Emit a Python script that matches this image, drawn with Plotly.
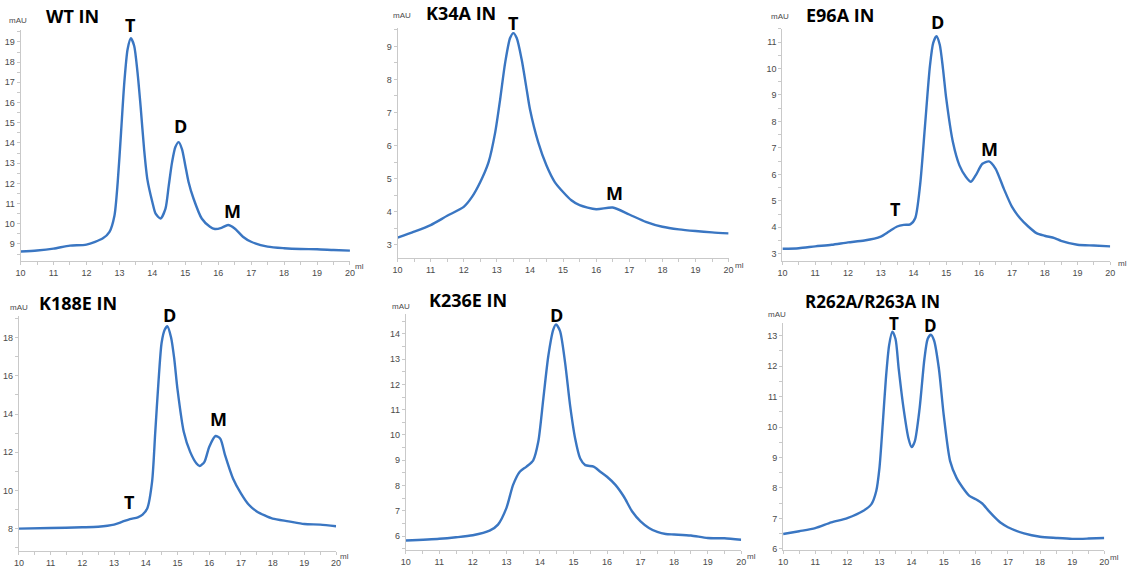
import plotly.graph_objects as go

W, H = 1141, 573

# ---------------- data (volume ml, absorbance mAU) ----------------
wt_x = [10, 10.5, 11, 11.5, 12, 12.5, 12.7, 12.85, 12.95, 13.05, 13.15, 13.25, 13.35, 13.45, 13.55, 13.65, 13.75, 13.85, 14.0, 14.1, 14.25, 14.4, 14.5, 14.6, 14.7, 14.8, 14.9, 15.0, 15.1, 15.25, 15.5, 15.75, 15.9, 16.1, 16.3, 16.5, 16.75, 17, 17.5, 18, 18.5, 19, 19.5, 20]
wt_y = [8.63, 8.68, 8.77, 8.92, 8.97, 9.28, 9.6, 10.4, 12.07, 14.5, 17.0, 18.64, 19.18, 18.8, 17.5, 15.7, 13.7, 12.2, 11.08, 10.5, 10.26, 10.75, 11.9, 13.05, 13.8, 14.04, 13.7, 12.9, 12.07, 11.25, 10.26, 9.85, 9.74, 9.8, 9.94, 9.77, 9.36, 9.11, 8.87, 8.79, 8.75, 8.74, 8.70, 8.67]

k34_x = [10, 10.5, 11, 11.5, 12, 12.25, 12.5, 12.75, 12.95, 13.1, 13.25, 13.4, 13.5, 13.6, 13.75, 13.9, 14.0, 14.25, 14.5, 14.75, 15.0, 15.25, 15.5, 16, 16.5, 17, 17.5, 18, 18.5, 19, 19.5, 20]
k34_y = [3.22, 3.40, 3.60, 3.88, 4.15, 4.45, 4.9, 5.5, 6.4, 7.4, 8.5, 9.25, 9.4, 9.25, 8.6, 7.7, 7.1, 6.1, 5.4, 4.9, 4.6, 4.35, 4.2, 4.08, 4.13, 3.92, 3.70, 3.55, 3.47, 3.42, 3.38, 3.35]

e96_x = [10, 10.5, 11, 11.5, 12, 12.5, 13, 13.25, 13.5, 13.7, 13.9, 14.05, 14.2, 14.35, 14.5, 14.6, 14.7, 14.8, 14.9, 15.0, 15.2, 15.4, 15.6, 15.75, 15.9, 16.1, 16.3, 16.5, 16.75, 17, 17.25, 17.5, 17.75, 18, 18.3, 18.5, 19, 19.5, 20]
e96_y = [3.19, 3.21, 3.28, 3.34, 3.43, 3.50, 3.65, 3.84, 4.03, 4.09, 4.11, 4.34, 5.6, 7.84, 10.1, 10.97, 11.22, 10.9, 9.97, 8.84, 7.22, 6.34, 5.9, 5.72, 5.97, 6.4, 6.49, 6.22, 5.47, 4.78, 4.34, 4.03, 3.78, 3.68, 3.59, 3.49, 3.34, 3.31, 3.28]

k188_x = [10, 11, 12, 12.5, 13, 13.25, 13.5, 13.75, 13.9, 14.05, 14.2, 14.3, 14.4, 14.5, 14.6, 14.68, 14.8, 14.9, 15.0, 15.2, 15.4, 15.6, 15.7, 15.85, 16.0, 16.2, 16.35, 16.5, 16.75, 17.0, 17.25, 17.5, 17.75, 18, 18.5, 19, 19.5, 20]
k188_y = [8.0, 8.03, 8.07, 8.1, 8.21, 8.35, 8.5, 8.59, 8.73, 9.07, 10.46, 13.06, 15.66, 17.74, 18.43, 18.6, 18.0, 16.87, 15.31, 13.06, 12.02, 11.41, 11.28, 11.5, 12.28, 12.85, 12.71, 11.85, 10.63, 9.85, 9.25, 8.9, 8.69, 8.52, 8.38, 8.24, 8.21, 8.12]

k236_x = [10, 11, 11.5, 12, 12.5, 12.75, 13.0, 13.2, 13.4, 13.6, 13.8, 13.95, 14.1, 14.25, 14.4, 14.48, 14.6, 14.75, 14.9, 15.05, 15.2, 15.35, 15.6, 15.8, 16.0, 16.25, 16.5, 16.75, 17.0, 17.25, 17.5, 17.75, 18.0, 18.5, 19.0, 19.5, 20]
k236_y = [5.83, 5.9, 5.96, 6.04, 6.22, 6.46, 7.11, 8.03, 8.55, 8.75, 9.0, 9.73, 11.42, 13.12, 14.17, 14.37, 14.1, 12.86, 11.16, 9.86, 9.07, 8.81, 8.75, 8.55, 8.35, 8.03, 7.57, 6.98, 6.59, 6.33, 6.17, 6.09, 6.07, 6.03, 5.93, 5.92, 5.86]

r262_x = [10, 10.5, 11, 11.5, 12, 12.5, 12.75, 12.9, 13.0, 13.1, 13.2, 13.3, 13.4, 13.5, 13.6, 13.75, 13.9, 14.0, 14.1, 14.25, 14.4, 14.5, 14.6, 14.7, 14.85, 15.0, 15.2, 15.4, 15.6, 15.8, 16.0, 16.2, 16.4, 16.6, 16.8, 17.0, 17.5, 18.0, 18.5, 19.0, 19.5, 20]
r262_y = [6.49, 6.58, 6.68, 6.87, 7.01, 7.25, 7.47, 7.9, 8.66, 10.07, 11.59, 12.68, 13.13, 12.89, 11.9, 10.61, 9.64, 9.34, 9.53, 10.61, 12.24, 12.89, 13.03, 12.84, 11.92, 10.4, 8.88, 8.33, 8.0, 7.74, 7.63, 7.49, 7.25, 7.03, 6.84, 6.71, 6.51, 6.4, 6.36, 6.33, 6.34, 6.36]

titles = ["WT IN", "K34A IN", "E96A IN", "K188E IN", "K236E IN", "R262A/R263A IN"]
x_ticks = [10, 11, 12, 13, 14, 15, 16, 17, 18, 19, 20]

# ---------------- layout per panel ----------------
def px(x):
    return x / W

def py(y):
    return 1 - y / H

panels = [
    dict(x=wt_x, y=wt_y, box=(15.7, 348, 30, 263), yr=(8.15, 19.6), dt=1, md=0.5,
         peaks=[("T", 127, 25), ("D", 177, 127), ("M", 230, 212)],
         title=(68, 16), mau=(13, 21), ml=(358, 268)),
    dict(x=k34_x, y=k34_y, box=(396, 730, 28, 260), yr=(2.6, 9.56), dt=1, md=0.5,
         peaks=[("T", 513, 23), ("M", 615, 194)],
         title=(460, 13), mau=(401, 16), ml=(741, 267)),
    dict(x=e96_x, y=e96_y, box=(784.3, 1115, 29, 263), yr=(2.72, 11.5), dt=1, md=0.5,
         peaks=[("D", 941, 22), ("M", 993, 150), ("T", 898, 210)],
         title=(842, 15), mau=(782, 17), ml=(1127, 265)),
    dict(x=k188_x, y=k188_y, box=(14, 334, 318, 555), yr=(6.82, 19.15), dt=2, md=1,
         peaks=[("D", 166, 317), ("M", 215, 422), ("T", 126, 506)],
         title=(74, 305), mau=(14, 310), ml=(343, 560)),
    dict(x=k236_x, y=k236_y, box=(404.3, 742.7, 316.7, 554.3), yr=(5.44, 14.76), dt=1, md=0.5,
         peaks=[("D", 556, 317)],
         title=(467, 302), mau=(400, 309), ml=(753, 560)),
    dict(x=r262_x, y=r262_y, box=(785, 1109, 325.7, 554.3), yr=(5.95, 13.4), dt=1, md=0.5,
         peaks=[("T", 897, 326), ("D", 934, 328)],
         title=(875, 304), mau=(779, 317), ml=(1119, 561)),
]

LINE = "#3a76c2"
AXC = "#c9c9c9"
TICKC = "#4a4a4a"
BOLD = "Open Sans"

fig = go.Figure()
annotations = []
layout = {}
for i, p in enumerate(panels):
    n = "" if i == 0 else str(i + 1)
    xa, ya = "xaxis" + n, "yaxis" + n
    x0, x1, yt, yb = p["box"]
    fig.add_trace(go.Scatter(x=p["x"], y=p["y"], mode="lines",
                             line=dict(color=LINE, width=2.4, shape="spline", smoothing=0.7),
                             xaxis="x" + n, yaxis="y" + n, showlegend=False, hoverinfo="skip"))
    layout[xa] = dict(domain=[px(x0), px(x1)], range=[10, 20], anchor="y" + n,
                      tickvals=x_ticks, ticks="outside", ticklen=3, tickcolor=AXC,
                      showline=True, linecolor=AXC, linewidth=1, showgrid=False, zeroline=False,
                      tickfont=dict(size=9, color=TICKC, family="Liberation Sans"),
                      minor=dict(dtick=0.5, ticks="outside", ticklen=3, tickcolor=AXC),
                      fixedrange=True)
    layout[ya] = dict(domain=[py(yb), py(yt)], range=list(p["yr"]), anchor="x" + n,
                      dtick=p["dt"], tick0=0, ticks="outside", ticklen=3, tickcolor=AXC,
                      showline=True, linecolor=AXC, linewidth=1, showgrid=False, zeroline=False,
                      tickfont=dict(size=9, color=TICKC, family="Liberation Sans"),
                      minor=dict(dtick=p["md"], ticks="outside", ticklen=3, tickcolor=AXC),
                      fixedrange=True)
    fs = 17 if i == 5 else 18
    tx, ty = p["title"]
    annotations.append(dict(text="<b>%s</b>" % titles[i], x=px(tx), y=py(ty), xref="paper", yref="paper",
                            showarrow=False, xanchor="center", yanchor="middle",
                            font=dict(size=fs, color="black", family=BOLD)))
    for lab, lx, ly in p["peaks"]:
        annotations.append(dict(text="<b>%s</b>" % lab, x=px(lx), y=py(ly), xref="paper", yref="paper",
                                showarrow=False, xanchor="center", yanchor="middle",
                                font=dict(size=fs, color="black", family=BOLD)))
    mx, my = p["mau"]
    annotations.append(dict(text="mAU", x=px(mx), y=py(my), xref="paper", yref="paper",
                            showarrow=False, xanchor="center", yanchor="middle",
                            font=dict(size=8, color=TICKC, family="Liberation Sans")))
    lx, ly = p["ml"]
    annotations.append(dict(text="ml", x=px(lx), y=py(ly), xref="paper", yref="paper",
                            showarrow=False, xanchor="center", yanchor="middle",
                            font=dict(size=8, color=TICKC, family="Liberation Sans")))

fig.update_layout(width=W, height=H, margin=dict(l=0, r=0, t=0, b=0),
                  paper_bgcolor="white", plot_bgcolor="white", hovermode=False,
                  annotations=annotations, **layout)
fig.write_html("out.html", config={"displayModeBar": False, "staticPlot": True},
               post_script="document.body.style.margin='0';document.body.style.overflow='hidden';")
